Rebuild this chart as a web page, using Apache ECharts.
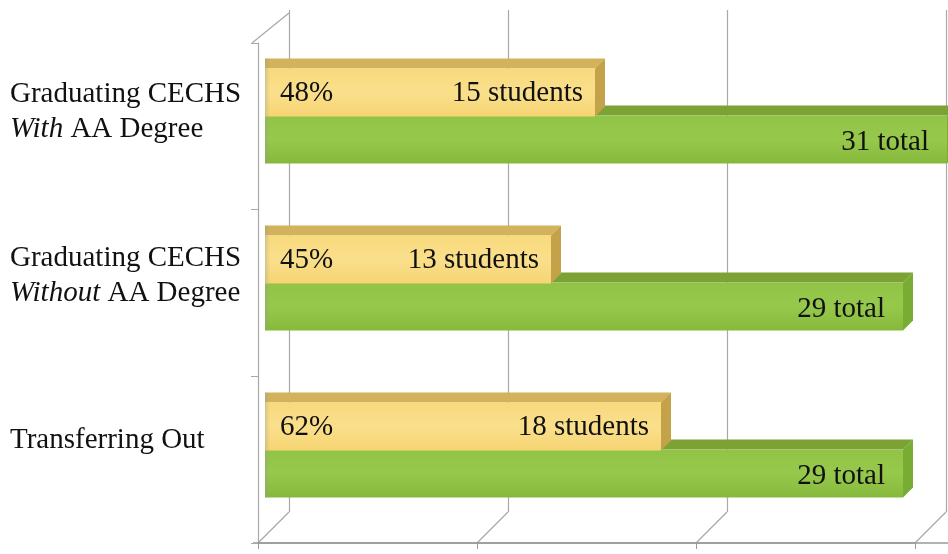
<!DOCTYPE html>
<html><head><meta charset="utf-8">
<script src="https://cdn.jsdelivr.net/npm/echarts@6/dist/echarts.min.js"></script>
<style>html,body{margin:0;padding:0;background:#fff}#c{width:948px;height:554px}</style>
</head><body><div id="c"></div>
<script>
const categoryLabels = ['Graduating CECHS\n{i|With}{n| AA Degree}', 'Graduating CECHS\n{i|Without}{n| AA Degree}', 'Transferring Out'];
const categories = ['Graduating CECHS With AA Degree', 'Graduating CECHS Without AA Degree', 'Transferring Out'];
const students = [15, 13, 18];
const totals = [31, 29, 29];
const percentLabels = ['48%', '45%', '62%'];
const xTicks = [0, 10, 20, 30];

const FONT = '"Liberation Serif","Times New Roman",serif';
const FS = 29;
const DX = 10, DY = 10, H = 48;

function render(kind) {
  return function (params, api) {
    const i = api.value(0), v = api.value(1);
    const p0 = api.coord([0, i]);
    const p1 = api.coord([v, i]);
    const c = p0[1];
    const x0 = p0[0], x1 = p1[0];
    const top = kind === 'y' ? c - 47 : c;
    const col = kind === 'y'
      ? {front: new echarts.graphic.LinearGradient(0,0,0,1,[{offset:0,color:'#F8DA7C'},{offset:0.5,color:'#FADF8C'},{offset:1,color:'#F5D472'}]), top:'#D2B25A', side:'#C4A24A'}
      : {front: new echarts.graphic.LinearGradient(0,0,0,1,[{offset:0,color:'#91C446'},{offset:0.5,color:'#96C84C'},{offset:1,color:'#86B93B'}]), top:'#7CA236', side:'#78AC33'};
    const children = [
      {type:'polygon', shape:{points:[[x0,top],[x1,top],[x1+DX,top-DY],[x0,top-DY]]}, style:{fill:col.top}},
      {type:'polygon', shape:{points:[[x1,top],[x1+DX,top-DY],[x1+DX,top+H-DY],[x1,top+H]]}, style:{fill:col.side}},
      {type:'rect', shape:{x:x0, y:top, width:x1-x0, height:H}, style:{fill:col.front}},
      {type:'rect', shape:{x:x0, y:top-DY, width:5, height:H+DY}, style:{fill:new echarts.graphic.LinearGradient(0,0,1,0,[{offset:0,color:'rgba(150,150,150,0.35)'},{offset:1,color:'rgba(150,150,150,0)'}])}}
    ];
    if (kind === 'y') {
      children.push({type:'text', style:{text:percentLabels[i], x:x0+15, y:top+H/2+1, align:'left', verticalAlign:'middle', fontSize:FS, fontFamily:FONT, fill:'#111'}});
      children.push({type:'text', style:{text:v + ' students', x:x1-12, y:top+H/2+1, align:'right', verticalAlign:'middle', fontSize:FS, fontFamily:FONT, fill:'#111'}});
    } else {
      children.push({type:'text', style:{text:v + ' total', x:x1-18, y:top+H/2+3, align:'right', verticalAlign:'middle', fontSize:FS, fontFamily:FONT, fill:'#111'}});
    }
    return {type:'group', children};
  };
}

const chart = echarts.init(document.getElementById('c'), null, {renderer:'canvas'});
const lineCol = '#A8A8A8';
const slants = [];
[258, 477, 696, 915].forEach(x => slants.push({type:'line', shape:{x1:x, y1:543, x2:x+31, y2:512}, style:{stroke:lineCol, lineWidth:1.2}, silent:true}));
slants.push({type:'line', shape:{x1:252, y1:43, x2:289, y2:13}, style:{stroke:lineCol, lineWidth:1.2}, silent:true});
slants.push({type:'line', shape:{x1:253, y1:543, x2:948, y2:543}, style:{stroke:'#999', lineWidth:1.5}, silent:true});

chart.setOption({
  animation:false,
  backgroundColor:'#fff',
  graphic: slants,
  grid:[
    {left:265, width:660, top:32, height:501},   // bars
    {left:289, width:657, top:10, height:502},   // back wall grid lines
    {left:258, width:657, top:43, height:500},   // front axis
    {left:265, width:660, top:30, height:492}    // category labels
  ],
  xAxis:[
    {gridIndex:0, type:'value', min:0, max:30, interval:10, axisLine:{show:false}, axisTick:{show:false}, axisLabel:{show:false}, splitLine:{show:false}},
    {gridIndex:1, type:'value', min:0, max:30, interval:10, axisLine:{show:false}, axisTick:{show:false}, axisLabel:{show:false}, splitLine:{show:true, lineStyle:{color:lineCol, width:1.2}}},
    {gridIndex:2, type:'value', min:0, max:30, interval:10, axisLine:{show:true, lineStyle:{color:'#999', width:1.5}}, axisTick:{show:true, length:6, lineStyle:{color:'#999'}}, axisLabel:{show:false}, splitLine:{show:false}},
    {gridIndex:3, type:'value', min:0, max:30, show:false}
  ],
  yAxis:[
    {gridIndex:0, type:'category', data:categories, inverse:true, show:false},
    {gridIndex:1, type:'category', data:categories, inverse:true, show:false},
    {gridIndex:2, type:'category', data:categories, inverse:true, axisLine:{show:true, lineStyle:{color:lineCol, width:1.2}}, axisTick:{show:true, length:7, lineStyle:{color:lineCol}}, axisLabel:{show:false}, splitLine:{show:false}},
    {gridIndex:3, type:'category', data:categoryLabels, inverse:true, axisLine:{show:false}, axisTick:{show:false}, splitLine:{show:false},
      axisLabel:{show:true, align:'left', margin:255, fontSize:FS, fontFamily:FONT, color:'#111', lineHeight:35,
        rich:{i:{fontStyle:'italic', fontSize:FS, fontFamily:FONT, color:'#111', lineHeight:35}, n:{fontSize:FS, fontFamily:FONT, color:'#111', lineHeight:35}}}}
  ],
  series:[
    {type:'custom', xAxisIndex:0, yAxisIndex:0, renderItem:render('g'), encode:{x:1, y:0}, data:totals.map((v,i)=>[i,v]), z:2, clip:false},
    {type:'custom', xAxisIndex:0, yAxisIndex:0, renderItem:render('y'), encode:{x:1, y:0}, data:students.map((v,i)=>[i,v]), z:3, clip:false}
  ]
});
</script></body></html>
